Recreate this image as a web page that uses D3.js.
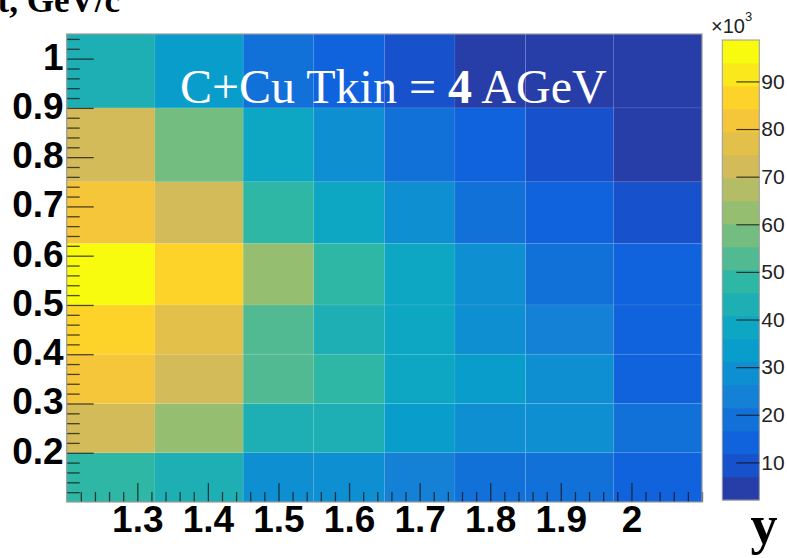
<!DOCTYPE html>
<html>
<head>
<meta charset="utf-8">
<script src="https://cdn.jsdelivr.net/npm/d3@7"></script>
<style>
  body { margin: 0; background: #fff; }
  svg { display: block; }
</style>
</head>
<body>
<script>
// bin edges (variable width) and bin contents, rows from bottom (pT 0.1) to top
let xEdges = [1.2, 1.325, 1.45, 1.55, 1.65, 1.75, 1.85, 1.975, 2.1]
let yEdges = [0.1, 0.2, 0.3, 0.4, 0.5, 0.625, 0.75, 0.9, 1.05]
let row0 = [47600, 43900, 28100, 29300, 24200, 18600, 19400, 13800]
let row1 = [72600, 62100, 42800, 43600, 33900, 28200, 29000, 19300]
let row2 = [81300, 71700, 53100, 47700, 38700, 33100, 28400, 14600]
let row3 = [86200, 76600, 52400, 43000, 38100, 28900, 23500, 14100]
let row4 = [98700, 87100, 62800, 48400, 38500, 29100, 18800, 14400]
let row5 = [82100, 72000, 48200, 38900, 28500, 19200, 14000, 9100]
let row6 = [71800, 57300, 38200, 28600, 19100, 13900, 9600, 4300]
let row7 = [43400, 33200, 19300, 14300, 9200, 4900, 3600, 2100]
let rows = [row0, row1, row2, row3, row4, row5, row6, row7]

let xTicks = [1.3, 1.4, 1.5, 1.6, 1.7, 1.8, 1.9, 2.0]
let yTicks = [0.2, 0.3, 0.4, 0.5, 0.6, 0.7, 0.8, 0.9, 1.0]
let zTicks = [10000, 20000, 30000, 40000, 50000, 60000, 70000, 80000, 90000]
let nContours = 20

// ROOT kBird palette stops
let bird = ["#352a87", "#0f5cdd", "#1481d6", "#06a4ca", "#2eb7a4", "#87bf77", "#d1bb59", "#fec832", "#f9fb0e"]
let birdInterp = d3.piecewise(d3.interpolateRgb, bird)

let width = 787
let height = 558
let frame = { left: 66.7, right: 702, top: 34, bottom: 502 }
let bar = { left: 722.3, right: 759.3, top: 40, bottom: 500 }

let svg = d3.select("body").append("svg")
    .attr("width", width)
    .attr("height", height)

let x = d3.scaleLinear().domain([xEdges[0], xEdges[xEdges.length - 1]]).range([frame.left, frame.right])
let y = d3.scaleLinear().domain([yEdges[0], yEdges[yEdges.length - 1]]).range([frame.bottom, frame.top])

let allValues = rows.flat()
let zExt = d3.extent(allValues)
let z = d3.scaleLinear().domain(zExt).range([bar.bottom, bar.top])
let dz = (zExt[1] - zExt[0]) / nContours

let bandOf = v => Math.max(0, Math.min(nContours - 1, Math.floor((v - zExt[0]) / dz)))
let bandColor = b => {
    let idx = Math.floor((b + 0.99) * 255 / nContours)
    return birdInterp(Math.min(idx, 254) / 254)
}

let cells = []
rows.forEach((r, j) => r.forEach((v, i) => {
    cells.push({ x0: xEdges[i], x1: xEdges[i + 1], y0: yEdges[j], y1: yEdges[j + 1], v: v })
}))

svg.append("g").selectAll(".cell").data(cells)
    .enter().append("rect")
    .attr("class", "cell")
    .attr("x", d => x(d.x0))
    .attr("y", d => y(d.y1))
    .attr("width", d => x(d.x1) - x(d.x0))
    .attr("height", d => y(d.y0) - y(d.y1))
    .attr("fill", d => bandColor(bandOf(d.v)))
    .attr("stroke", "rgba(255,255,255,0.08)")
    .attr("stroke-width", 0.8)

// axis ticks inside the frame
let tickColor = "rgba(20,20,20,0.75)"

let minorX = d3.range(1.22, 2.1, 0.02).filter(t => !xTicks.some(m => Math.abs(m - t) < 1e-6))
let minorY = d3.range(0.12, 1.05, 0.02).filter(t => !yTicks.some(m => Math.abs(m - t) < 1e-6))

let styleAxis = g => {
    g.select(".domain").remove()
    g.selectAll(".tick line").attr("stroke", tickColor).attr("stroke-width", 1.3)
}

svg.append("g")
    .attr("transform", `translate(0,${frame.bottom})`)
    .call(d3.axisBottom(x).tickValues(minorX).tickSize(-10).tickFormat(""))
    .call(styleAxis)

svg.append("g")
    .attr("transform", `translate(0,${frame.bottom})`)
    .call(d3.axisBottom(x).tickValues(xTicks).tickSize(-19).tickPadding(4).tickFormat(d3.format("~g")))
    .call(styleAxis)
    .call(g => g.selectAll("text")
        .attr("fill", "#000")
        .attr("font-family", "Liberation Sans, Arial, sans-serif")
        .attr("font-weight", "bold")
        .attr("font-size", 37))

svg.append("g")
    .attr("transform", `translate(${frame.left},0)`)
    .call(d3.axisLeft(y).tickValues(minorY).tickSize(-13).tickFormat(""))
    .call(styleAxis)

svg.append("g")
    .attr("transform", `translate(${frame.left},0)`)
    .call(d3.axisLeft(y).tickValues(yTicks).tickSize(-27).tickPadding(3).tickFormat(d3.format("~g")))
    .call(styleAxis)
    .call(g => g.selectAll("text")
        .attr("fill", "#000")
        .attr("dy", "0.28em")
        .attr("font-family", "Liberation Sans, Arial, sans-serif")
        .attr("font-weight", "bold")
        .attr("font-size", 37))

// frame
svg.append("rect")
    .attr("x", frame.left).attr("y", frame.top)
    .attr("width", frame.right - frame.left)
    .attr("height", frame.bottom - frame.top)
    .attr("fill", "none")
    .attr("stroke", "#9a9a9a")
    .attr("stroke-width", 1.2)

// title inside the plot
let title = svg.append("text")
    .attr("x", 180)
    .attr("y", 103)
    .attr("fill", "#fff")
    .attr("font-family", "Liberation Serif, Times New Roman, serif")
    .attr("font-size", 48)
    .attr("xml:space", "preserve")
title.append("tspan").text("C+Cu Tkin = ")
title.append("tspan").attr("font-weight", "bold").text("4")
title.append("tspan").text(" AGeV")

// axis titles (partly outside the canvas, as in the original)
let yTitle = svg.append("text")
    .attr("x", 120)
    .attr("y", 11.5)
    .attr("text-anchor", "end")
    .attr("font-family", "Liberation Serif, Times New Roman, serif")
    .attr("font-weight", "bold")
    .attr("font-size", 35)
yTitle.append("tspan").text("p")
yTitle.append("tspan").text("t, GeV/c")

svg.append("text")
    .attr("x", 764)
    .attr("y", 543)
    .attr("text-anchor", "middle")
    .attr("font-family", "Liberation Serif, Times New Roman, serif")
    .attr("font-weight", "bold")
    .attr("font-size", 54)
    .text("y")

// colour bar, one band per contour level
let bands = d3.range(nContours).map(b => ({ b: b, lo: zExt[0] + b * dz, hi: zExt[0] + (b + 1) * dz }))
svg.append("g").selectAll(".band").data(bands)
    .enter().append("rect")
    .attr("class", "band")
    .attr("x", bar.left)
    .attr("y", d => z(d.hi))
    .attr("width", bar.right - bar.left)
    .attr("height", d => z(d.lo) - z(d.hi) + 0.3)
    .attr("fill", d => bandColor(d.b))

svg.append("rect")
    .attr("x", bar.left).attr("y", bar.top)
    .attr("width", bar.right - bar.left)
    .attr("height", bar.bottom - bar.top)
    .attr("fill", "none")
    .attr("stroke", "#9a9a9a")
    .attr("stroke-width", 1)

svg.append("g")
    .attr("transform", `translate(${bar.right},0)`)
    .call(d3.axisRight(z).tickValues(zTicks).tickSize(-23).tickPadding(2).tickFormat(d => d / 1000))
    .call(styleAxis)
    .call(g => g.selectAll(".tick line").attr("stroke", "rgba(20,20,20,0.8)").attr("stroke-width", 1.2))
    .call(g => g.selectAll("text")
        .attr("fill", "#222")
        .attr("font-family", "Liberation Sans, Arial, sans-serif")
        .attr("font-size", 21))

let mult = svg.append("text")
    .attr("x", 711)
    .attr("y", 33)
    .attr("fill", "#222")
    .attr("font-family", "Liberation Sans, Arial, sans-serif")
    .attr("font-size", 20)
mult.append("tspan").text("×10")
mult.append("tspan").attr("font-size", 13).attr("dy", -12).text("3")
</script>
</body>
</html>
